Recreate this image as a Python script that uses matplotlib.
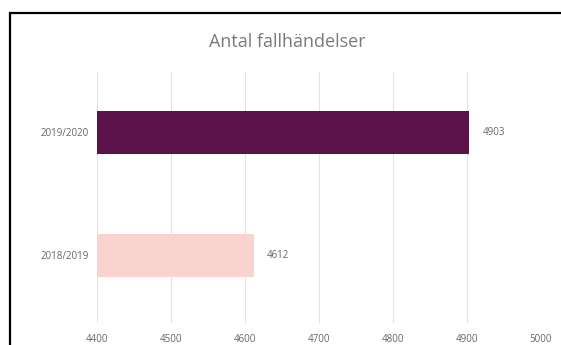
import matplotlib.pyplot as plt
from matplotlib.patches import Rectangle

plt.rcParams['font.family'] = ['Open Sans', 'DejaVu Sans']

# data
seasons = ["2018/2019", "2019/2020"]
counts = [4612, 4903]
bar_colors = ["#f8d3cf", "#5b1249"]
xticks = [4400, 4500, 4600, 4700, 4800, 4900, 5000]

fig = plt.figure(figsize=(5.61, 3.45), dpi=100)
fig.patch.set_facecolor("white")

# black frame around the chart (cut off at right and bottom)
fig.patches.append(Rectangle((10 / 561, -0.05), 1.0, 1 - 13 / 345 + 0.05,
                             transform=fig.transFigure, fill=False,
                             edgecolor="black", linewidth=1.6))

ax = fig.add_axes([97 / 561, 22 / 345, (541 - 97) / 561, (323 - 72) / 345])
ypos = list(range(len(seasons)))
ax.barh(ypos, [c - 4400 for c in counts], left=4400, height=0.35,
        color=bar_colors, zorder=3)

for y, c in zip(ypos, counts):
    ax.text(c + 18, y, str(c), va="center", ha="left", fontsize=7, color="#666666")

ax.set_xlim(4400, 5000)
ax.set_ylim(-0.55, 1.49)
ax.set_xticks(xticks)
ax.set_xticklabels([str(t) for t in xticks], fontsize=7, color="#666666")
ax.set_yticks(ypos)
ax.set_yticklabels(seasons, fontsize=7, color="#666666")
ax.tick_params(length=0, pad=8)
ax.tick_params(axis="y", pad=6)
ax.grid(axis="x", color="#e3e3e3", linewidth=0.8, zorder=0)
for s in ax.spines.values():
    s.set_visible(False)

fig.text(287 / 561, 1 - 42 / 345, "Antal fallhändelser", ha="center", va="center",
         fontsize=13, color="#7a7a7a")

fig.savefig("out.png", dpi=100)
